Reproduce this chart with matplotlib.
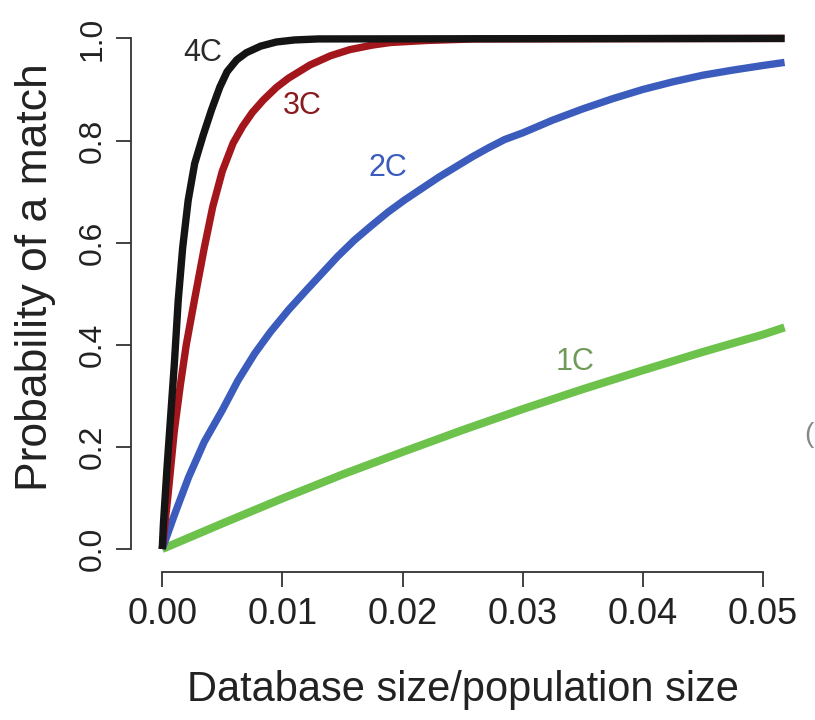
import numpy as np
import matplotlib
matplotlib.use("Agg")
import matplotlib.pyplot as plt

plt.rcParams['font.family'] = ['Liberation Sans', 'DejaVu Sans']

# values
x_4c = [0, 0.0001, 0.0004, 0.0007, 0.001, 0.00133, 0.0017, 0.00216, 0.0027,
        0.0034, 0.0041, 0.0048, 0.0054, 0.0062, 0.007, 0.0082, 0.0095, 0.011,
        0.013, 0.0518]
y_4c = [0, 0.05, 0.16, 0.26, 0.36, 0.487, 0.59, 0.683, 0.755,
        0.81, 0.86, 0.905, 0.935, 0.958, 0.972, 0.985, 0.993, 0.997,
        0.999, 1.0]

x_3c = [0, 0.0005, 0.001, 0.0015, 0.002, 0.0027, 0.0035, 0.0042, 0.005,
        0.0059, 0.0067, 0.0075, 0.0084, 0.0095, 0.0105, 0.0123, 0.014, 0.0156,
        0.0175, 0.019, 0.022, 0.026, 0.0518]
y_3c = [0, 0.11, 0.23, 0.32, 0.40, 0.49, 0.59, 0.67, 0.74,
        0.795, 0.828, 0.855, 0.879, 0.904, 0.922, 0.948, 0.966, 0.978,
        0.987, 0.992, 0.996, 0.999, 1.0]

x_2c = [0, 0.001, 0.0022, 0.0035, 0.005, 0.0063, 0.0077, 0.009, 0.0105, 0.012,
        0.0133, 0.0146, 0.016, 0.0174, 0.0188, 0.0202, 0.0216, 0.023, 0.0244,
        0.0258, 0.0271, 0.0285, 0.03, 0.0325, 0.035, 0.0375, 0.04, 0.0425,
        0.045, 0.0475, 0.05, 0.0518]
y_2c = [0, 0.066, 0.141, 0.21, 0.272, 0.33, 0.383, 0.425, 0.468, 0.507,
        0.54, 0.573, 0.605, 0.633, 0.66, 0.684, 0.706, 0.728, 0.748,
        0.768, 0.785, 0.802, 0.815, 0.84, 0.862, 0.882, 0.9, 0.915,
        0.928, 0.938, 0.947, 0.953]

x_1c = [0, 0.005, 0.01, 0.015, 0.02, 0.025, 0.03, 0.035, 0.04, 0.045, 0.05, 0.0518]
y_1c = [0, 0.05, 0.099, 0.146, 0.19, 0.233, 0.274, 0.313, 0.35, 0.386, 0.42, 0.434]

xticks = [0.0, 0.01, 0.02, 0.03, 0.04, 0.05]
yticks = [0.0, 0.2, 0.4, 0.6, 0.8, 1.0]

fig = plt.figure(figsize=(8.15, 7.2), dpi=100)
# axes placed in pixel terms: left 131, right 811, bottom 572, top 18
ax = fig.add_axes([131/815, (720-572)/720, (811-131)/815, (572-18)/720])

ax.plot(x_1c, y_1c, color='#6cc24a', lw=5.8, solid_capstyle='butt', solid_joinstyle='round')
ax.plot(x_2c, y_2c, color='#3b5cbd', lw=5.3, solid_capstyle='butt', solid_joinstyle='round')
ax.plot(x_3c, y_3c, color='#a3171c', lw=5.3, solid_capstyle='butt', solid_joinstyle='round')
ax.plot(x_4c, y_4c, color='#141414', lw=5.3, solid_capstyle='butt', solid_joinstyle='round')

ax.text(0.0034, 0.971, "4C", color='#2a2a2a', fontsize=22, ha='center', va='center')
ax.text(0.01165, 0.867, "3C", color='#8a1a1e', fontsize=22, ha='center', va='center')
ax.text(0.0188, 0.746, "2C", color='#3b5cbd', fontsize=22, ha='center', va='center')
ax.text(0.0344, 0.366, "1C", color='#6f9a5a', fontsize=22, ha='center', va='center')

ax.set_xlim(-0.0026, 0.054)
ax.set_ylim(-0.045, 1.04)
ax.set_xticks(xticks)
ax.set_xticklabels(["%.2f" % v for v in xticks], fontsize=26)
ax.set_yticks(yticks)
ax.set_yticklabels(["%.1f" % v for v in yticks], rotation=90, va='center', fontsize=23)

for s in ['top', 'right']:
    ax.spines[s].set_visible(False)
ax.spines['left'].set_bounds(0, 1)
ax.spines['bottom'].set_bounds(0, 0.05)
for s in ['left', 'bottom']:
    ax.spines[s].set_color('#333333')
    ax.spines[s].set_linewidth(1.3)
ax.tick_params(length=11, width=1.3, color='#333333', labelcolor='#222222')
ax.tick_params(axis='x', pad=7)
ax.tick_params(axis='y', pad=6)

ax.set_xlabel("Database size/population size", fontsize=30, color='#222222', va='center')
ax.xaxis.set_label_coords((463-131)/680, (572-690)/554)
ax.set_ylabel("Probability of a match", fontsize=32, color='#222222', va='center')
ax.yaxis.set_label_coords((36-131)/680, (572-277)/554)

# cut-off bracket from the neighbouring panel at the right edge
fig.text(814/815, 1 - 435/720, "(", fontsize=20, color='#888888', ha='right', va='center')

fig.savefig("out.png", dpi=100)
